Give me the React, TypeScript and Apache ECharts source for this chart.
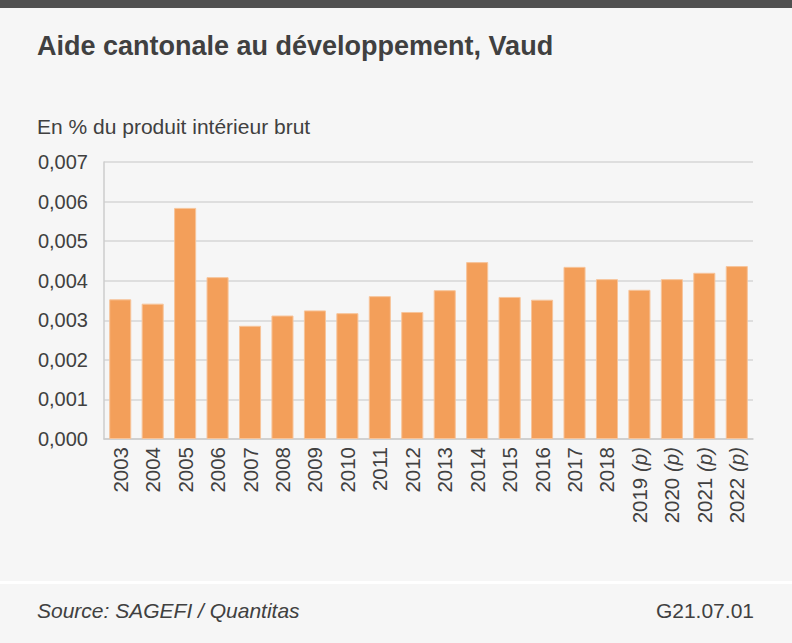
import React, { useEffect, useRef } from "react";
import * as echarts from "echarts";

const categories = ["2003","2004","2005","2006","2007","2008","2009","2010","2011","2012","2013","2014","2015","2016","2017","2018","2019 (p)","2020 (p)","2021 (p)","2022 (p)"];
const values = [0.00353,0.00342,0.00584,0.00409,0.00286,0.00312,0.00325,0.00318,0.00361,0.00321,0.00376,0.00447,0.00359,0.00352,0.00435,0.00404,0.00377,0.00404,0.0042,0.00437];
const yTicks = { min: 0, max: 0.007, interval: 0.001 };

const FONT = "'Liberation Sans', Arial, sans-serif";
const TXT = "#404040";

export default function App() {
  const ref = useRef<HTMLDivElement>(null);
  useEffect(() => {
    const chart = echarts.init(ref.current!, null, { renderer: "svg" });
    chart.setOption({
      animation: false,
      backgroundColor: "#f6f6f6",
      textStyle: { fontFamily: FONT },
      grid: { left: 104, right: 39, top: 162, bottom: 204, containLabel: false },
      graphic: [
        { type: "rect", shape: { x: 0, y: 0, width: 792, height: 8 }, style: { fill: "#505050" } },
        { type: "rect", shape: { x: 0, y: 581, width: 792, height: 3 }, style: { fill: "#ffffff" } },
        { type: "text", x: 37, y: 46, style: { text: "Aide cantonale au développement, Vaud", font: `bold 27px ${FONT}`, fill: TXT, textVerticalAlign: "middle" } },
        { type: "text", x: 37, y: 126, style: { text: "En % du produit intérieur brut", font: `21px ${FONT}`, fill: TXT, textVerticalAlign: "middle" } },
        { type: "text", x: 37, y: 610, style: { text: "Source: SAGEFI / Quantitas", font: `italic 21px ${FONT}`, fill: TXT, textVerticalAlign: "middle" } },
        { type: "text", x: 754, y: 610, style: { text: "G21.07.01", font: `21px ${FONT}`, fill: TXT, textAlign: "right", textVerticalAlign: "middle" } },
      ],
      xAxis: {
        type: "category",
        data: categories,
        axisLine: { show: true, lineStyle: { color: "#cccccc", width: 1.5 } },
        axisTick: { show: false },
        axisLabel: {
          rotate: 90,
          interval: 0,
          margin: 8,
          color: TXT,
          fontSize: 20.5,
          fontFamily: FONT,
          formatter: (v: string) => {
            const m = v.match(/^(\d+) \(p\)$/);
            return m ? `${m[1]} {i|(p)}` : v;
          },
          rich: { i: { fontStyle: "italic", fontSize: 20.5, fontFamily: FONT, color: TXT } },
        },
      },
      yAxis: {
        type: "value",
        min: yTicks.min,
        max: yTicks.max,
        interval: yTicks.interval,
        axisLine: { show: true, lineStyle: { color: "#cccccc", width: 1.5 } },
        axisTick: { show: false },
        splitLine: { lineStyle: { color: "#d6d6d6", width: 1.5 } },
        axisLabel: {
          color: TXT,
          fontSize: 20,
          fontFamily: FONT,
          margin: 16,
          formatter: (v: number) => v.toFixed(3).replace(".", ","),
        },
      },
      series: [
        {
          type: "bar",
          data: values,
          barCategoryGap: "32%",
          itemStyle: { color: "#f39f5a", borderColor: "#f7c49a", borderWidth: 1 },
        },
      ],
    });
    return () => chart.dispose();
  }, []);
  return <div ref={ref} style={{ position: "fixed", left: 0, top: 0, width: 792, height: 643 }} />;
}
